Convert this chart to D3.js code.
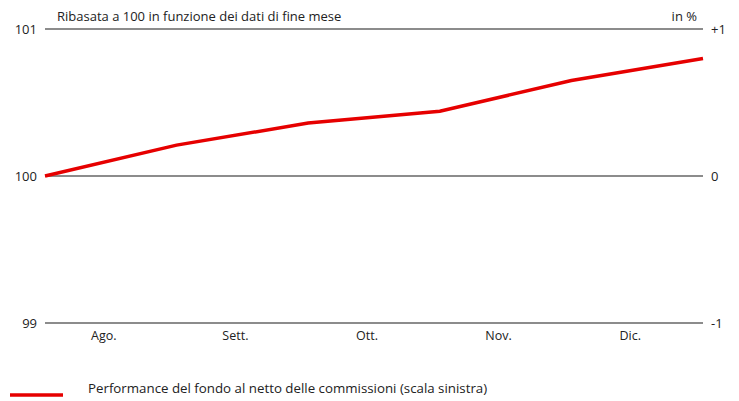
<!DOCTYPE html>
<html>
<head>
<meta charset="utf-8">
<script src="https://cdn.jsdelivr.net/npm/d3@7"></script>
<style>
  body { margin: 0; background: #fff; }
  text { font-family: "Open Sans", sans-serif; fill: #222; }
</style>
</head>
<body>
<svg></svg>
<script>
const width = 739
const height = 401
const margin = { left: 45, right: 36, top: 29, bottom: 78 }

// data
const months = ['Ago.', 'Sett.', 'Ott.', 'Nov.', 'Dic.']
const pointIndex = [0, 1, 2, 3, 4, 5]
const performance = [100, 100.21, 100.36, 100.44, 100.65, 100.80]
const leftTicks = [99, 100, 101]
const rightTickLabels = ['-1', '0', '+1']
const title = 'Ribasata a 100 in funzione dei dati di fine mese'
const unitLabel = 'in %'
const legendLabel = 'Performance del fondo al netto delle commissioni (scala sinistra)'

let svg = d3.select('svg').attr('width', width).attr('height', height)

let xScale = d3.scaleLinear()
    .domain([0, 5])
    .range([margin.left, width - margin.right])

let monthScale = d3.scaleBand()
    .domain(months)
    .range([margin.left, width - margin.right])

let yScale = d3.scaleLinear()
    .domain([99, 101])
    .range([height - margin.bottom, margin.top])

// gridlines
svg.append('g')
    .selectAll('line')
    .data(leftTicks)
    .enter()
    .append('line')
    .attr('x1', margin.left)
    .attr('x2', width - margin.right)
    .attr('y1', d => yScale(d))
    .attr('y2', d => yScale(d))
    .attr('stroke', '#666')
    .attr('stroke-width', 1.3)

// left labels
svg.append('g')
    .selectAll('text')
    .data(leftTicks)
    .enter()
    .append('text')
    .attr('x', 37)
    .attr('y', d => yScale(d) + 5)
    .attr('text-anchor', 'end')
    .attr('font-size', 13)
    .text(d => d)

// right labels
svg.append('g')
    .selectAll('text')
    .data(leftTicks)
    .enter()
    .append('text')
    .attr('x', 711)
    .attr('y', d => yScale(d) + 5)
    .attr('font-size', 13)
    .text((d, i) => rightTickLabels[i])

// month labels
svg.append('g')
    .selectAll('text')
    .data(months)
    .enter()
    .append('text')
    .attr('x', d => monthScale(d) + monthScale.bandwidth() / 2 - 7)
    .attr('y', height - margin.bottom + 17)
    .attr('text-anchor', 'middle')
    .attr('font-size', 12.5)
    .text(d => d)

svg.append('text')
    .attr('x', 57)
    .attr('y', 21)
    .attr('font-size', 13)
    .text(title)

svg.append('text')
    .attr('x', 697)
    .attr('y', 21)
    .attr('text-anchor', 'end')
    .attr('font-size', 13)
    .text(unitLabel)

// performance line
let line = d3.line()
    .x(i => xScale(i))
    .y(i => yScale(performance[i]))

svg.append('path')
    .datum(pointIndex)
    .attr('d', line)
    .attr('fill', 'none')
    .attr('stroke', '#e60000')
    .attr('stroke-width', 3.5)

// legend
svg.append('line')
    .attr('x1', 10)
    .attr('x2', 63)
    .attr('y1', 395)
    .attr('y2', 395)
    .attr('stroke', '#e60000')
    .attr('stroke-width', 3.5)

svg.append('text')
    .attr('x', 88)
    .attr('y', 393)
    .attr('font-size', 13.3)
    .text(legendLabel)
</script>
</body>
</html>
